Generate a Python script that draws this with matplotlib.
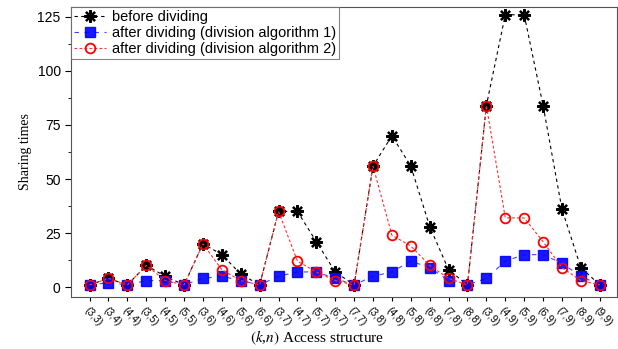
import numpy as np
import matplotlib.pyplot as plt

plt.rcParams['mathtext.fontset'] = 'stix'

labels = ['(3,3)', '(3,4)', '(4,4)', '(3,5)', '(4,5)', '(5,5)', '(3,6)', '(4,6)', '(5,6)', '(6,6)',
          '(3,7)', '(4,7)', '(5,7)', '(6,7)', '(7,7)', '(3,8)', '(4,8)', '(5,8)', '(6,8)', '(7,8)',
          '(8,8)', '(3,9)', '(4,9)', '(5,9)', '(6,9)', '(7,9)', '(8,9)', '(9,9)']
before = [1, 4, 1, 10, 5, 1, 20, 15, 6, 1, 35, 35, 21, 7, 1, 56, 70, 56, 28, 8, 1, 84, 126, 126, 84, 36, 9, 1]
algo1 = [1, 2, 1, 3, 3, 1, 4, 5, 3, 1, 5, 7, 7, 4, 1, 5, 7, 12, 9, 3, 1, 4, 12, 15, 15, 11, 5, 1]
algo2 = [1, 4, 1, 10, 3, 1, 20, 8, 3, 1, 35, 12, 7, 3, 1, 56, 24, 19, 10, 4, 1, 84, 32, 32, 21, 9, 3, 1]

x = np.arange(len(labels))

fig = plt.figure(figsize=(6.18, 3.49), dpi=100)
ax = fig.add_axes([0.115, 0.149, 0.883, 0.831])

ax.plot(x, before, color='black', linestyle=(0, (3, 3)), linewidth=0.8,
        marker=(8, 2, 0), markersize=9, markeredgewidth=1.6, label='before dividing')
ax.plot(x, algo1, color='#3030ff', linestyle=(0, (4, 5)), linewidth=0.8, alpha=0.9,
        marker='s', markersize=6.5, markerfacecolor='blue', markeredgecolor='blue',
        label='after dividing (division algorithm 1)')
ax.plot(x, algo2, color='#ff3030', linestyle=(0, (2.5, 2)), linewidth=0.8,
        marker='o', markersize=7, markerfacecolor='none', markeredgecolor='red',
        markeredgewidth=1.3, label='after dividing (division algorithm 2)')

ax.set_xlim(-0.98, 27.9)
ax.set_ylim(-4.6, 129.6)
ax.set_xticks(x)
ax.set_xticklabels(labels, rotation=-48, ha='left', va='top', fontsize=7.5,
                   family='Liberation Sans', rotation_mode='anchor')
ax.set_yticks([0, 25, 50, 75, 100, 125])
ax.set_yticks(np.arange(12.5, 125, 25), minor=True)
ax.tick_params(axis='y', labelsize=10, direction='out', length=4)
ax.tick_params(axis='y', which='minor', length=2)
ax.tick_params(axis='x', direction='out', length=3, pad=3)
for lab in ax.get_yticklabels():
    lab.set_family('Liberation Sans')

for sp in ax.spines.values():
    sp.set_color('#555555')
    sp.set_linewidth(0.8)

ax.set_ylabel('Sharing times', family='Liberation Serif', fontsize=10)
ax.set_xlabel('$(k$,$n)$ Access structure', family='Liberation Serif', fontsize=11)
ax.xaxis.set_label_coords(0.45, -0.11)

leg = ax.legend(loc='upper left', frameon=True, fancybox=False,
                borderpad=0.2, labelspacing=0.15, handlelength=2.2, handletextpad=0.4,
                borderaxespad=0.0, prop={'family': 'Liberation Sans', 'size': 10.5})
leg.get_frame().set_edgecolor('#666666')
leg.get_frame().set_linewidth(0.8)

fig.savefig('out.png', dpi=100)
